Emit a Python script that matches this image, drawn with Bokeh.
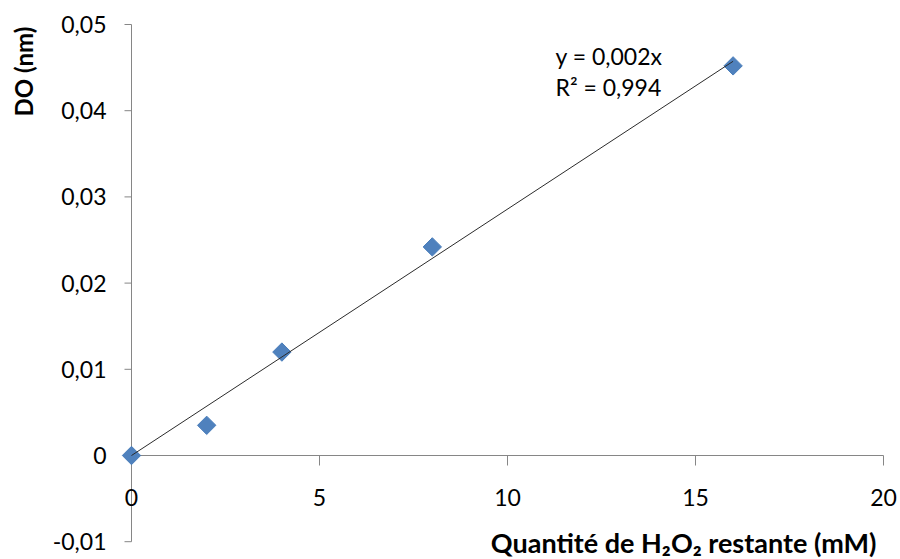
import math
from bokeh.plotting import figure
from bokeh.models import ColumnDataSource
from bokeh.core.properties import value
from bokeh.embed import file_html
from bokeh.resources import INLINE

# ---- data ----
x_vals = [0, 2, 4, 8, 16]
y_vals = [0, 0.0035, 0.012, 0.0242, 0.0452]

x_ticks = [0, 5, 10, 15, 20]
x_tick_labels = ["0", "5", "10", "15", "20"]
y_ticks = [-0.01, 0, 0.01, 0.02, 0.03, 0.04, 0.05]
y_tick_labels = ["-0,01", "0", "0,01", "0,02", "0,03", "0,04", "0,05"]

eq_lines = ["y = 0,002x", "R\u00b2 = 0,994"]
x_title = "Quantit\u00e9 de H\u2082O\u2082 restante (mM)"
y_title = "DO (nm)"

# least-squares slope through origin
slope = sum(a * b for a, b in zip(x_vals, y_vals)) / sum(a * a for a in x_vals)
trend_x = [0, max(x_vals)]
trend_y = [slope * v for v in trend_x]

W, H = 900, 559
# pixel mapping: x=0 -> 131 px, 37.6 px/unit; y=0 -> 455 px, 8620 px/unit
px_x0, sx = 131.0, 37.6
px_y0, sy = 455.0, 8620.0
x_range = (-px_x0 / sx, (W - px_x0) / sx)
y_range = ((px_y0 - H) / sy, px_y0 / sy)

p = figure(width=W, height=H, x_range=x_range, y_range=y_range,
           x_axis_type=None, y_axis_type=None, output_backend="svg",
           toolbar_location=None, min_border=0, title=None)
p.outline_line_color = None
p.background_fill_color = "white"
p.border_fill_color = "white"

FONT = value("Lato")
AX = "#868686"
TXT = "#000000"

# axis lines
p.segment(x0=[0, x_ticks[0]], y0=[y_ticks[0], 0], x1=[0, x_ticks[-1]], y1=[y_ticks[-1], 0],
          line_color=AX, line_width=1)
# ticks
p.ray(x=[0] * len(y_ticks), y=y_ticks, length=7, length_units="screen", angle=math.pi,
      line_color=AX, line_width=1)
p.ray(x=x_ticks, y=[0] * len(x_ticks), length=10, length_units="screen", angle=-math.pi / 2,
      line_color=AX, line_width=1)

# tick labels
p.text(x=[0] * len(y_ticks), y=y_ticks, text=y_tick_labels, x_offset=-25,
       text_align="right", text_baseline="middle", text_font=FONT,
       text_font_size="23px", text_color=TXT)
p.text(x=x_ticks, y=[0] * len(x_ticks), text=x_tick_labels, y_offset=42,
       text_align="center", text_baseline="middle", text_font=FONT,
       text_font_size="23px", text_color=TXT)

# markers
src = ColumnDataSource(dict(x=x_vals, y=y_vals))
p.scatter("x", "y", source=src, marker="square", angle=math.pi / 4, size=13,
          fill_color="#4F81BD", line_color="#4A7EBB", line_width=1)

# trendline
p.line(trend_x, trend_y, line_color="#2b2b2b", line_width=1)

# equation
eq_x = (555 - px_x0) / sx
eq_y = [(px_y0 - 55) / sy, (px_y0 - 86) / sy]
p.text(x=[eq_x, eq_x], y=eq_y, text=eq_lines, text_align="left",
       text_baseline="middle", text_font=FONT, text_font_size="23px", text_color=TXT)

# axis titles
p.text(x=[(876 - px_x0) / sx], y=[(px_y0 - 542) / sy], text=[x_title],
       text_align="right", text_baseline="middle", text_font=FONT,
       text_font_style="bold", text_font_size="27px", text_color=TXT)
p.text(x=[(23 - px_x0) / sx], y=[(px_y0 - 71) / sy], text=[y_title], angle=math.pi / 2,
       text_align="center", text_baseline="middle", text_font=FONT,
       text_font_style="bold", text_font_size="24px", text_color=TXT)

open("out.html", "w").write(file_html(p, INLINE))
